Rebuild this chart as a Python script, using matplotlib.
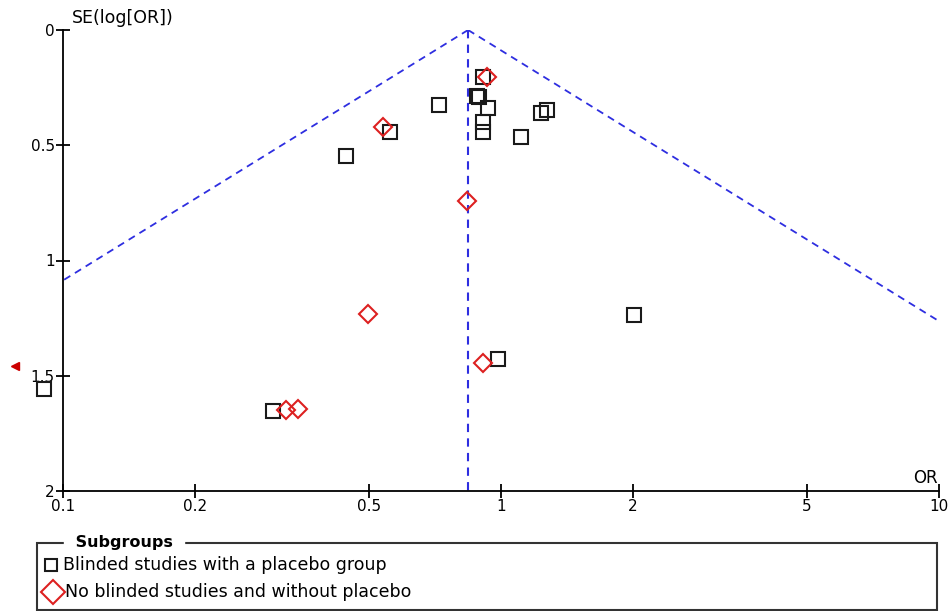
import numpy as np
import matplotlib
matplotlib.use("Agg")
import matplotlib.pyplot as plt
from matplotlib.patches import Rectangle
from matplotlib.lines import Line2D
import matplotlib.transforms as mtransforms

# pooled OR (vertical line / funnel apex)
pooled_or = 0.841

# Blinded studies with a placebo group (squares)
blind_or = [0.910, 0.882, 0.893, 0.934, 0.722, 0.910, 0.910, 0.558, 0.443,
            1.111, 1.234, 1.274, 2.013, 0.984, 0.302, 0.0905]
blind_se = [0.204, 0.286, 0.290, 0.338, 0.325, 0.399, 0.443, 0.443, 0.547,
            0.464, 0.360, 0.347, 1.236, 1.427, 1.653, 1.557]

# No blinded studies and without placebo (diamonds)
open_or = [0.929, 0.538, 0.837, 0.497, 0.910, 0.323, 0.344]
open_se = [0.204, 0.421, 0.742, 1.232, 1.445, 1.649, 1.644]

# study out of the OR scale (shown as an arrow at the left)
offscale_se = [1.458]

blue = '#2e2ee0'
red = '#dd2020'

fig = plt.figure(figsize=(9.51, 6.11), dpi=100)
ax = fig.add_axes([63/951, 1-491/611, (939-63)/951, (491-30)/611])

ax.set_xscale('log')
ax.set_xlim(0.1, 10)
ax.set_ylim(2, 0)

# funnel (95% pseudo confidence limits)
se_line = np.linspace(0, 2, 50)
lo = pooled_or * np.exp(-1.96 * se_line)
hi = pooled_or * np.exp(1.96 * se_line)
ax.plot(lo, se_line, ls=(0, (4, 3)), color=blue, lw=1.3)
ax.plot(hi, se_line, ls=(0, (4, 3)), color=blue, lw=1.3)
ax.plot([pooled_or, pooled_or], [0, 2], ls=(0, (4, 3)), color=blue, lw=1.5)

ax.plot(blind_or, blind_se, ls='none', marker='s', ms=9.5, mfc='none',
        mec='#1a1a1a', mew=1.5, clip_on=False)
ax.plot(open_or, open_se, ls='none', marker='D', ms=9, mfc='none',
        mec=red, mew=1.5, clip_on=False)

trans = mtransforms.blended_transform_factory(ax.transAxes, ax.transData)
ax.plot([-48/876] * len(offscale_se), offscale_se, ls='none', marker='<',
        ms=6, color='#cc0000', transform=trans, clip_on=False)

for s in ['top', 'right']:
    ax.spines[s].set_visible(False)
for s in ['left', 'bottom']:
    ax.spines[s].set_linewidth(1.3)

ax.set_xticks([0.1, 0.2, 0.5, 1, 2, 5, 10])
ax.set_xticklabels(['0.1', '0.2', '0.5', '1', '2', '5', '10'])
ax.xaxis.set_minor_locator(matplotlib.ticker.NullLocator())
ax.set_yticks([0, 0.5, 1, 1.5, 2])
ax.set_yticklabels(['0', '0.5', '1', '1.5', '2'])
ax.tick_params(direction='inout', length=10, width=1.3, labelsize=11, pad=1)

ax.text(72/951, 1-18/611, 'SE(log[OR])', transform=fig.transFigure,
        fontsize=12.5, ha='left', va='center')
ax.text(938/951, 1-478/611, 'OR', transform=fig.transFigure,
        fontsize=12, ha='right', va='center')

# legend box (fieldset style)
fig.patches.append(Rectangle((37/951, 1-610/611), (937-37)/951, (610-543)/611,
                             transform=fig.transFigure, fill=False,
                             ec='#333333', lw=1.5))
fig.text(70/951, 1-543/611, ' Subgroups ', fontsize=11.5, fontweight='bold',
         ha='left', va='center', backgroundcolor='white')
fig.lines.append(Line2D([50.5/951], [1-564.5/611], marker='s', ms=8.5, mfc='none',
                        mec='#1a1a1a', mew=1.5, transform=fig.transFigure))
fig.lines.append(Line2D([53/951], [1-592/611], marker='D', ms=12, mfc='none',
                        mec=red, mew=1.5, transform=fig.transFigure))
fig.text(63/951, 1-565/611, 'Blinded studies with a placebo group',
         fontsize=12.5, ha='left', va='center')
fig.text(65/951, 1-592/611, 'No blinded studies and without placebo',
         fontsize=12.5, ha='left', va='center')

fig.savefig('out.png', dpi=100)
